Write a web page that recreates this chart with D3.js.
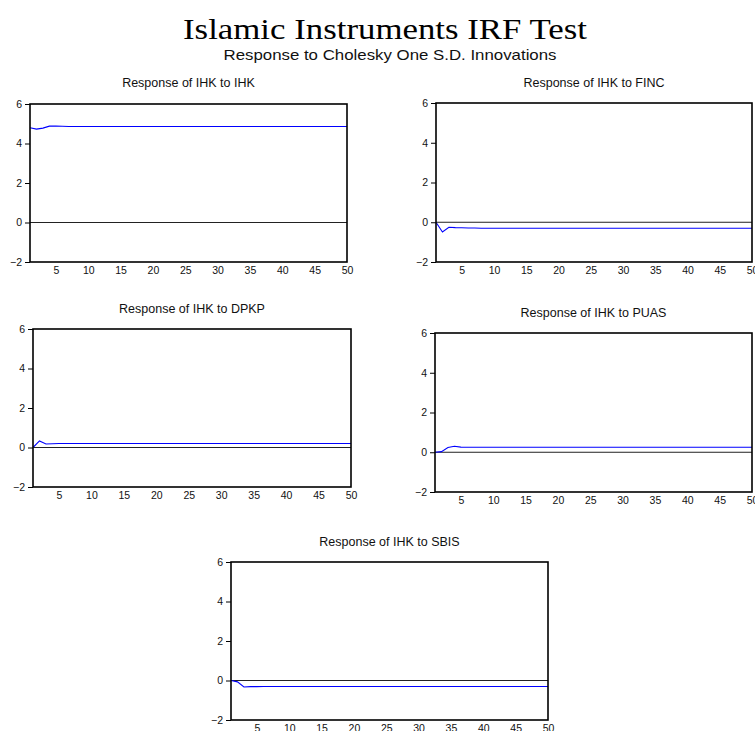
<!DOCTYPE html>
<html><head><meta charset="utf-8">
<script src="https://cdn.jsdelivr.net/npm/d3@7"></script>
<style>html,body{margin:0;padding:0;background:#fff;}svg{display:block;}</style>
</head><body>
<script>
const mainTitle = "Islamic Instruments IRF Test";
const subTitle = "Response to Cholesky One S.D. Innovations";
const panelTitles = ["Response of IHK to IHK","Response of IHK to FINC","Response of IHK to DPKP","Response of IHK to PUAS","Response of IHK to SBIS"];
const periods = [1,2,3,4,5,6,7,8,9,10,11,12,13,14,15,16,17,18,19,20,21,22,23,24,25,26,27,28,29,30,31,32,33,34,35,36,37,38,39,40,41,42,43,44,45,46,47,48,49,50];
const xTicks = [5,10,15,20,25,30,35,40,45,50];
const yTicks = [-2,0,2,4,6];
const respIHK  = [4.80,4.73,4.78,4.88,4.88,4.87,4.86,4.86,4.86,4.86,4.86,4.86,4.86,4.86,4.86,4.86,4.86,4.86,4.86,4.86,4.86,4.86,4.86,4.86,4.86,4.86,4.86,4.86,4.86,4.86,4.86,4.86,4.86,4.86,4.86,4.86,4.86,4.86,4.86,4.86,4.86,4.86,4.86,4.86,4.86,4.86,4.86,4.86,4.86,4.86];
const respFINC = [0.00,-0.49,-0.25,-0.27,-0.28,-0.29,-0.29,-0.30,-0.30,-0.30,-0.30,-0.30,-0.30,-0.30,-0.30,-0.30,-0.30,-0.30,-0.30,-0.30,-0.30,-0.30,-0.30,-0.30,-0.30,-0.30,-0.30,-0.30,-0.30,-0.30,-0.30,-0.30,-0.30,-0.30,-0.30,-0.30,-0.30,-0.30,-0.30,-0.30,-0.30,-0.30,-0.30,-0.30,-0.30,-0.30,-0.30,-0.30,-0.30,-0.30];
const respDPKP = [0.00,0.33,0.18,0.19,0.20,0.20,0.20,0.20,0.20,0.20,0.20,0.20,0.20,0.20,0.20,0.20,0.20,0.20,0.20,0.20,0.20,0.20,0.20,0.20,0.20,0.20,0.20,0.20,0.20,0.20,0.20,0.20,0.20,0.20,0.20,0.20,0.20,0.20,0.20,0.20,0.20,0.20,0.20,0.20,0.20,0.20,0.20,0.20,0.20,0.20];
const respPUAS = [0.00,0.03,0.24,0.30,0.26,0.25,0.25,0.25,0.25,0.25,0.25,0.25,0.25,0.25,0.25,0.25,0.25,0.25,0.25,0.25,0.25,0.25,0.25,0.25,0.25,0.25,0.25,0.25,0.25,0.25,0.25,0.25,0.25,0.25,0.25,0.25,0.25,0.25,0.25,0.25,0.25,0.25,0.25,0.25,0.25,0.25,0.25,0.25,0.25,0.25];
const respSBIS = [0.00,-0.07,-0.33,-0.31,-0.31,-0.30,-0.30,-0.30,-0.30,-0.30,-0.30,-0.30,-0.30,-0.30,-0.30,-0.30,-0.30,-0.30,-0.30,-0.30,-0.30,-0.30,-0.30,-0.30,-0.30,-0.30,-0.30,-0.30,-0.30,-0.30,-0.30,-0.30,-0.30,-0.30,-0.30,-0.30,-0.30,-0.30,-0.30,-0.30,-0.30,-0.30,-0.30,-0.30,-0.30,-0.30,-0.30,-0.30,-0.30,-0.30];
const series = [respIHK, respFINC, respDPKP, respPUAS, respSBIS];

const W = 755, H = 731;
const svg = d3.select("body").append("svg").attr("width", W).attr("height", H);

svg.append("text").attr("x", 385).attr("y", 39).attr("text-anchor", "middle")
  .attr("font-family", "Liberation Serif, serif").attr("font-size", 30)
  .attr("textLength", 404).attr("lengthAdjust", "spacingAndGlyphs")
  .attr("fill", "#000").text(mainTitle);
svg.append("text").attr("x", 390).attr("y", 60).attr("text-anchor", "middle")
  .attr("font-family", "Liberation Sans, Arial, sans-serif").attr("font-size", 14.5)
  .attr("textLength", 333).attr("lengthAdjust", "spacingAndGlyphs")
  .attr("fill", "#111").text(subTitle);

// panel frames: [left, right, top, bottom, titleY]
const frames = [
  [30, 347, 104, 262, 87],
  [436, 752, 103, 262, 87],
  [33, 351, 329, 487, 313],
  [435, 752, 333, 492, 317],
  [231, 548, 562, 720, 546]
];

frames.forEach((f, i) => {
  const [l, r, t, b, ty] = f;
  const x = d3.scaleLinear().domain([1, 50]).range([l, r]);
  const y = d3.scaleLinear().domain([-2, 6]).range([b, t]);
  const g = svg.append("g");
  g.append("text").attr("x", (l + r) / 2).attr("y", ty).attr("text-anchor", "middle")
    .attr("font-family", "Liberation Sans, Arial, sans-serif").attr("font-size", 12.5)
    .attr("fill", "#111").text(panelTitles[i]);

  g.append("line").attr("x1", l).attr("x2", r).attr("y1", y(0)).attr("y2", y(0))
    .attr("stroke", "#222").attr("stroke-width", 1);

  const line = d3.line().x((d, k) => x(periods[k])).y(d => y(d));
  g.append("path").datum(series[i]).attr("d", line)
    .attr("fill", "none").attr("stroke", "#0000ff").attr("stroke-width", 1.1);

  const ya = g.append("g").attr("transform", `translate(${l},0)`)
    .call(d3.axisLeft(y).tickValues(yTicks).tickSize(5).tickPadding(3).tickFormat(d3.format("d")));
  ya.select(".domain").remove();
  ya.selectAll("line").attr("stroke", "#000");
  ya.selectAll("text").attr("font-family", "Liberation Sans, Arial, sans-serif").attr("font-size", 10.5).attr("fill", "#111");

  const xa = g.append("g").attr("transform", `translate(0,${b})`)
    .call(d3.axisBottom(x).tickValues(xTicks).tickSize(0).tickPadding(5).tickFormat(d3.format("d")));
  xa.select(".domain").remove();
  xa.selectAll("text").attr("font-family", "Liberation Sans, Arial, sans-serif").attr("font-size", 10.5).attr("fill", "#111");

  g.append("rect").attr("x", l).attr("y", t).attr("width", r - l).attr("height", b - t)
    .attr("fill", "none").attr("stroke", "#000").attr("stroke-width", 1.6);
});
</script>
</body></html>
